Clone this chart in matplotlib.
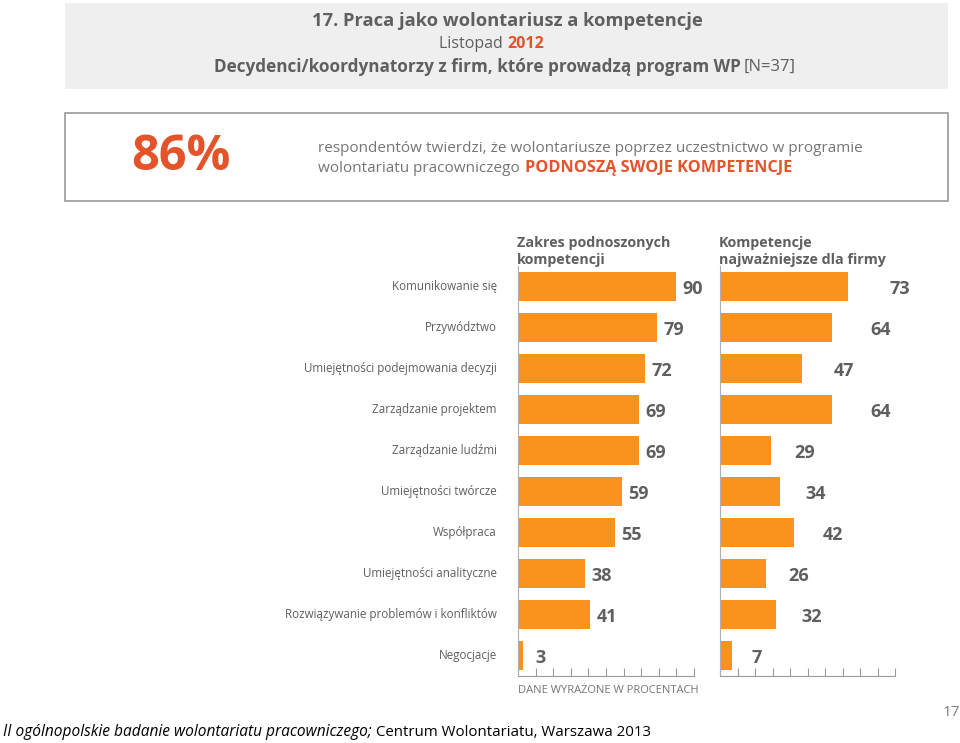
import matplotlib
matplotlib.use('Agg')
import matplotlib.pyplot as plt
from matplotlib.patches import Rectangle

# dane
kategorie = ["Komunikowanie się", "Przywództwo", "Umiejętności podejmowania decyzji",
             "Zarządzanie projektem", "Zarządzanie ludźmi", "Umiejętności twórcze",
             "Współpraca", "Umiejętności analityczne",
             "Rozwiązywanie problemów i konfliktów", "Negocjacje"]
zakres = [90, 79, 72, 69, 69, 59, 55, 38, 41, 3]
najwazniejsze = [73, 64, 47, 64, 29, 34, 42, 26, 32, 7]

SZARY = '#5f5f5f'
JASNY = '#757575'
CZERWONY = '#e4532a'
POMARANCZ = '#f7931e'

plt.rcParams['font.family'] = ['Open Sans', 'DejaVu Sans']

fig = plt.figure(figsize=(9.6, 7.43), dpi=100)
W, H = 960, 743


def fx(px):
    return px / W


def fy(py):
    return 1 - py / H


# naglowek
fig.patches.append(Rectangle((fx(65), fy(89)), fx(948) - fx(65), fy(3) - fy(89),
                             transform=fig.transFigure, facecolor='#efefef',
                             edgecolor='none', zorder=0))
fig.text(fx(507), fy(21), "17. Praca jako wolontariusz a kompetencje", ha='center',
         va='center', fontsize=13.2, fontweight='bold', color=SZARY)
fig.text(fx(507), fy(44), "Listopad ", ha='right', va='center', fontsize=11.5,
         color=SZARY)
fig.text(fx(507), fy(44), "2012", ha='left', va='center', fontsize=11.5,
         fontweight='bold', color=CZERWONY)
fig.text(fx(741), fy(67), "Decydenci/koordynatorzy z firm, które prowadzą program WP",
         ha='right', va='center', fontsize=12.3, fontweight='bold', color=SZARY)
fig.text(fx(744), fy(67), "[N=37]", ha='left', va='center', fontsize=12,
         color=SZARY)

# ramka z 86%
fig.patches.append(Rectangle((fx(65), fy(201)), fx(948) - fx(65), fy(113) - fy(201),
                             transform=fig.transFigure, facecolor='white',
                             edgecolor='#9a9a9a', linewidth=1.2, zorder=0))
fig.text(fx(131), fy(158), "86%", ha='left', va='center', fontsize=35,
         fontweight='bold', color=CZERWONY)
fig.text(fx(318), fy(148),
         "respondentów twierdzi, że wolontariusze poprzez uczestnictwo w programie",
         ha='left', va='center', fontsize=11, color=JASNY)
fig.text(fx(318), fy(168), "wolontariatu pracowniczego ", ha='left',
         va='center', fontsize=11, color=JASNY)
fig.text(fx(525), fy(168), "PODNOSZĄ SWOJE KOMPETENCJE", ha='left', va='center',
         fontsize=11.7, fontweight='bold', color=CZERWONY)

# wykresy
ax1 = fig.add_axes([fx(518), fy(676), fx(694) - fx(518), fy(266) - fy(676)])
ax2 = fig.add_axes([fx(720), fy(676), fx(895) - fx(720), fy(266) - fy(676)])

for ax, wartosci, tytul, styl in [
        (ax1, zakres, "Zakres podnoszonych\nkompetencji", 'stale'),
        (ax2, najwazniejsze, "Kompetencje\nnajważniejsze dla firmy", 'rosnace')]:
    y = list(range(len(wartosci)))
    ax.barh(y, wartosci, height=0.69, color=POMARANCZ, zorder=2)
    ax.set_xlim(0, 100)
    ax.set_ylim(len(wartosci) - 0.5, -0.5)
    for i, v in enumerate(wartosci):
        if styl == 'stale':
            off = 9.5
        else:
            off = 12.5 + 0.24 * v
        ax.text(v + off, i + 0.05, str(v), ha='center', va='center', fontsize=13,
                fontweight='bold', color=SZARY)
    for s in ['top', 'right']:
        ax.spines[s].set_visible(False)
    ax.spines['left'].set_color('#b0b0b0')
    ax.spines['bottom'].set_color('#9a9a9a')
    ax.set_yticks([])
    ax.set_xticks(range(0, 101, 10))
    ax.set_xticklabels([])
    ax.tick_params(axis='x', direction='in', length=6, color='#9a9a9a')
    ax.patch.set_alpha(0)
    ax.text(-0.005, 0.998, tytul, transform=ax.transAxes, ha='left', va='bottom',
            fontsize=10.3, fontweight='bold', color=SZARY, linespacing=1.3,
            clip_on=False)

for i, k in enumerate(kategorie):
    ax1.text(-12, i, k, ha='right', va='center', fontsize=8.4, color=SZARY,
             clip_on=False)

ax1.text(0, -0.022, "DANE WYRAŻONE W PROCENTACH", transform=ax1.transAxes,
         ha='left', va='top', fontsize=8, color=JASNY)

# stopka
fig.text(fx(3), fy(732), "II ogólnopolskie badanie wolontariatu pracowniczego;",
         ha='left', va='center', fontsize=11.2, style='italic', color='black')
fig.text(fx(376), fy(732), "Centrum Wolontariatu, Warszawa 2013", ha='left',
         va='center', fontsize=10.8, color='black')
fig.text(fx(960), fy(712), "17", ha='right', va='center', fontsize=11,
         color='#7f7f7f')

fig.savefig('out.png', dpi=100)
